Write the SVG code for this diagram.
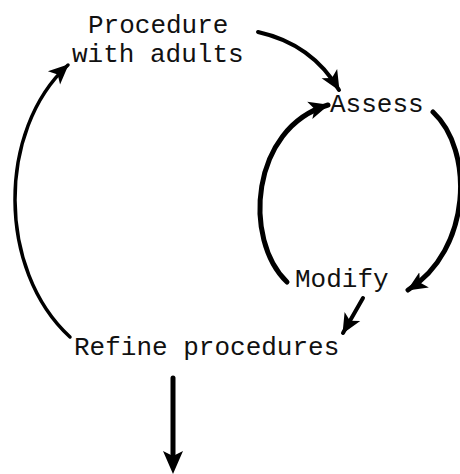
<svg xmlns="http://www.w3.org/2000/svg" width="460" height="474" viewBox="0 0 460 474">
  <style>
    .lbl { font-family: "Liberation Mono", "Courier New", monospace; font-size: 26px; fill: #111; }
    .c { fill: none; stroke: #000; stroke-linecap: round; }
  </style>
  <defs>
    <marker id="ah" markerUnits="userSpaceOnUse" markerWidth="22" markerHeight="20" refX="19" refY="10" orient="auto">
      <path d="M0,1 L20,10 L0,19 L5,10 Z" fill="#000"/>
    </marker>
  </defs>
  <rect width="460" height="474" fill="#fff"/>
  <g id="connectors">
    <path class="c" stroke-width="4" d="M258,32 Q312,44 339,90" marker-end="url(#ah)"/>
    <path class="c" stroke-width="5" d="M433,112 C474,150 472,250 408,290" marker-end="url(#ah)"/>
    <path class="c" stroke-width="5" d="M287,282 C243,240 250,128 328,105" marker-end="url(#ah)"/>
    <path class="c" stroke-width="4" d="M363,298 L343,333" marker-end="url(#ah)"/>
    <path class="c" stroke-width="3.5" d="M70,337 C-3,270 -3,130 68,65" marker-end="url(#ah)"/>
    <path class="c" stroke-width="5" d="M173,378 L173,458"/>
    <path d="M163,451 L173,456 L183,451 L173,474 Z" fill="#000"/>
  </g>
  <g id="procedure">
    <text class="lbl" x="88" y="33">Procedure</text>
    <text class="lbl" x="72" y="62">with adults</text>
  </g>
  <g id="assess">
    <text class="lbl" x="330" y="112">Assess</text>
  </g>
  <g id="modify">
    <text class="lbl" x="295" y="287">Modify</text>
  </g>
  <g id="refine">
    <text class="lbl" x="74" y="355">Refine procedures</text>
  </g>
</svg>
